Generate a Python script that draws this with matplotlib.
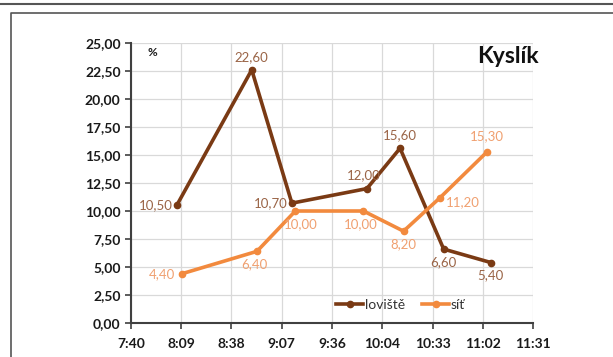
import matplotlib.pyplot as plt
from matplotlib.ticker import FixedLocator, FuncFormatter
from matplotlib.lines import Line2D

plt.rcParams['font.family'] = ['Lato', 'DejaVu Sans']

# casy odberu a hodnoty kysliku (%)
cas_loviste = ['8:07', '8:50', '9:13', '9:56', '10:15', '10:40', '11:07']
kyslik_loviste = [10.50, 22.60, 10.70, 12.00, 15.60, 6.60, 5.40]

cas_sit = ['8:10', '8:53', '9:15', '9:54', '10:17', '10:38', '11:05']
kyslik_sit = [4.40, 6.40, 10.00, 10.00, 8.20, 11.20, 15.30]

# pozice popisku: (dx, dy, ha, va)
pop_loviste = [(-3, 0, 'right', 'center'), (0, 5, 'center', 'bottom'),
               (-3, 0, 'right', 'center'), (-2, 5, 'center', 'bottom'),
               (0, 5, 'center', 'bottom'), (0, -5, 'center', 'top'),
               (0, -5, 'center', 'top')]
pop_sit = [(-5, 0, 'right', 'center'), (-2, -5, 'center', 'top'),
           (4, -5, 'center', 'top'), (-2, -5, 'center', 'top'),
           (0, -5, 'center', 'top'), (4, -3, 'left', 'center'),
           (0, 7, 'center', 'bottom')]

HNEDA = '#7a3a14'
ORANZ = '#f28a3e'


def na_den(t):
    h, m = t.split(':')
    return (int(h) * 60 + int(m)) / 1440


def fmt_cas(x, pos):
    minuty = int(round(x * 1440, 6))
    return '%d:%02d' % (minuty // 60, minuty % 60)


def popisky(ax, xs, ys, pozice, barva):
    for x, y, (dx, dy, ha, va) in zip(xs, ys, pozice):
        ax.annotate(('%.2f' % y).replace('.', ','), (x, y), xytext=(dx, dy),
                    textcoords='offset points', ha=ha, va=va,
                    fontsize=9.5, color=barva)


fig = plt.figure(figsize=(6.13, 3.57), dpi=100)
ax = fig.add_axes([0.2137, 0.0952, 0.6558, 0.7844])

x_lov = [na_den(t) for t in cas_loviste]
x_sit = [na_den(t) for t in cas_sit]

ax.plot(x_lov, kyslik_loviste, color=HNEDA, lw=2.6, marker='o', ms=4.5, zorder=3)
ax.plot(x_sit, kyslik_sit, color=ORANZ, lw=2.6, marker='o', ms=4.5, zorder=3)
popisky(ax, x_lov, kyslik_loviste, pop_loviste, '#9a6446')
popisky(ax, x_sit, kyslik_sit, pop_sit, '#f0a070')

ax.set_xlim(0.32, 0.48)
ax.set_ylim(0, 25)
ax.xaxis.set_major_locator(FixedLocator([0.32 + 0.02 * i for i in range(9)]))
ax.xaxis.set_major_formatter(FuncFormatter(fmt_cas))
ax.set_yticks([2.5 * i for i in range(11)])
ax.yaxis.set_major_formatter(FuncFormatter(lambda v, p: ('%.2f' % v).replace('.', ',')))
ax.grid(True, color='#d9d9d9', lw=0.9)
ax.set_axisbelow(True)
for s in ['top', 'right']:
    ax.spines[s].set_visible(False)
for s in ['left', 'bottom']:
    ax.spines[s].set_color('#404040')
    ax.spines[s].set_linewidth(1.5)
ax.tick_params(axis='both', labelsize=10, colors='#404040', labelcolor='#1a1a1a',
               length=4, width=1.2)
for lab in ax.get_xticklabels() + ax.get_yticklabels():
    lab.set_fontweight('bold')
ax.tick_params(axis='x', pad=7)

ax.text(0.04, 0.985, '%', transform=ax.transAxes, fontsize=8.5, fontweight='bold',
        color='#1a1a1a', va='top')
ax.text(1.015, 0.99, 'Kyslík', transform=ax.transAxes, fontsize=16.5, fontweight='bold',
        color='#111111', ha='right', va='top')

handles = [Line2D([], [], color=HNEDA, lw=2.6, marker='o', ms=4.5),
           Line2D([], [], color=ORANZ, lw=2.6, marker='o', ms=4.5)]
ax.legend(handles, ['loviště', 'síť'], loc='center', bbox_to_anchor=(0.67, 0.065),
          ncol=2, frameon=False, fontsize=10, handlelength=2.0, handletextpad=0.1,
          columnspacing=1.2, labelcolor='#333333')

# horni linka a ramecek
fig.add_artist(Line2D([0, 1], [0.988, 0.988], color='#555555', lw=1.5))
fig.add_artist(Line2D([0.018, 0.018, 1], [0, 0.963, 0.963], color='#555555', lw=1.2))

fig.savefig('out.png', dpi=100)
